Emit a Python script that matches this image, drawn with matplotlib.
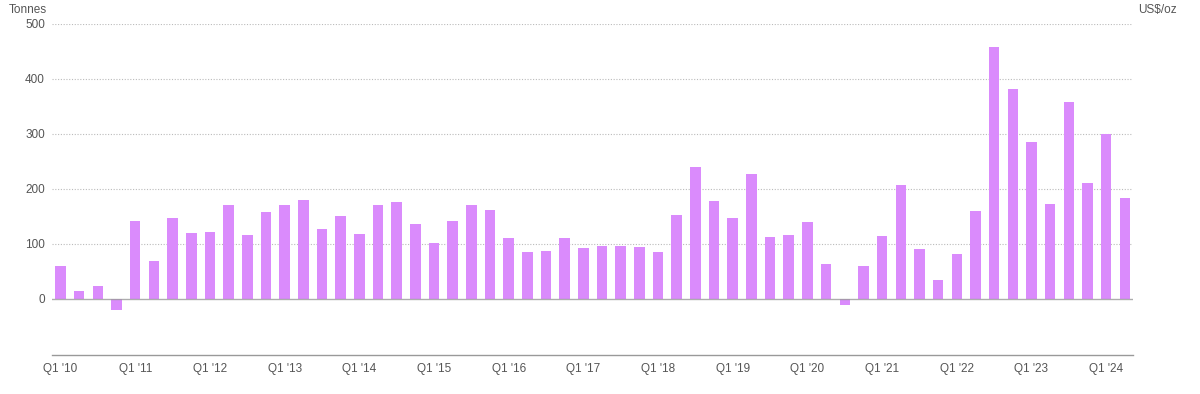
import matplotlib
matplotlib.use("Agg")
import matplotlib.pyplot as plt

plt.rcParams["font.family"] = ["Liberation Sans", "DejaVu Sans"]

years = list(range(10, 25))
quarters = []
for y in years:
    for q in range(1, 5):
        quarters.append(f"Q{q} '{y:02d}")
quarters = quarters[:58]

values = [60, 15, 24, -20, 142, 69, 148, 120, 122, 170, 116, 158, 170, 180, 127, 150,
          118, 170, 177, 136, 102, 142, 171, 162, 110, 85, 88, 110, 92, 96, 96, 94,
          85, 152, 240, 178, 147, 228, 113, 117, 140, 64, -11, 60, 115, 208, 90, 34,
          81, 159, 459, 381, 286, 173, 358, 210, 300, 184]

yticks = [0, 100, 200, 300, 400, 500]
tick_idx = list(range(0, 58, 4))
tick_labels = [quarters[i] for i in tick_idx]

fig = plt.figure(figsize=(12, 3.94), dpi=100)
ax = fig.add_axes([52/1200, 1-355/394, (1133-52)/1200, (355-24)/394])

x = list(range(len(values)))
ax.bar(x, values, width=0.56, color="#DA8BFC", zorder=2)

ax.set_xlim(-0.46, 57.44)
ax.set_ylim(-102, 500)

for v in yticks[1:]:
    ax.axhline(v, color="#BBBBBB", linestyle=(0, (1, 1.5)), linewidth=0.8, zorder=1)
ax.axhline(0, color="#999999", linewidth=1.0, zorder=3, alpha=0.8)

for s in ["top", "right", "left"]:
    ax.spines[s].set_visible(False)
ax.spines["bottom"].set_color("#999999")
ax.spines["bottom"].set_linewidth(1.0)

ax.set_yticks(yticks)
ax.set_yticklabels([str(v) for v in yticks])
ax.set_xticks(tick_idx)
ax.set_xticklabels(tick_labels)
ax.tick_params(axis="y", length=0, pad=5, labelsize=8.5, labelcolor="#555555")
ax.tick_params(axis="x", length=0, pad=5.5, labelsize=8.5, labelcolor="#555555")

fig.text(47/1200, 1-10/394, "Tonnes", ha="right", va="center", fontsize=8.5, color="#555555")
fig.text(1138/1200, 1-10/394, "US$/oz", ha="left", va="center", fontsize=8.5, color="#555555")

fig.savefig("out.png", dpi=100)
